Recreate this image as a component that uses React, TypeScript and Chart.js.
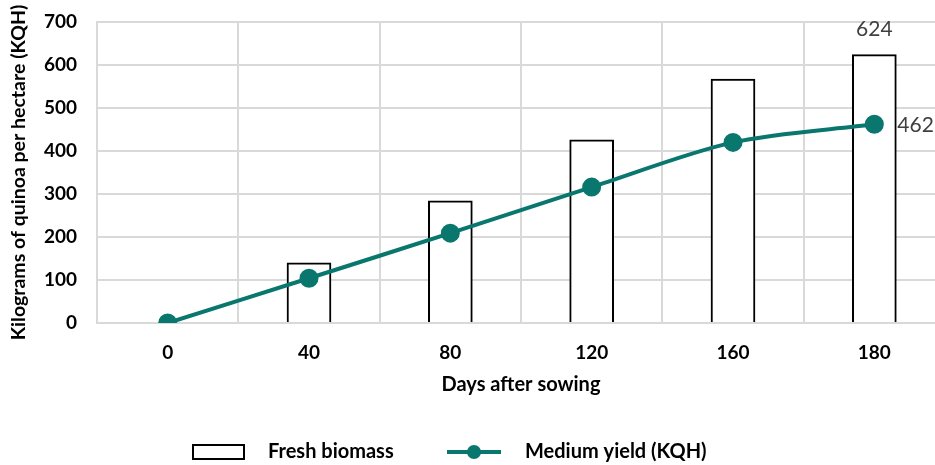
import React, { useEffect, useRef } from "react";
import { Chart, registerables } from "chart.js";

Chart.register(...registerables);

const categories = ["0", "40", "80", "120", "160", "180"];
const freshBiomass = [null, 140, 284, 426, 567, 624];
const mediumYield = [0, 104, 209, 316, 420, 462];
const yTicks = [0, 100, 200, 300, 400, 500, 600, 700];

const TEAL = "#0a776f";
const GRID = "#d9d9d9";
const FONT = "Lato, 'Open Sans', sans-serif";
const PLOT_TOP = 22;

const fixTopPlugin = {
  id: "fixTop",
  afterLayout(chart: any) {
    const y = chart.scales.y;
    chart.chartArea.top = PLOT_TOP;
    chart.chartArea.height = chart.chartArea.bottom - PLOT_TOP;
    y.top = PLOT_TOP;
    y.height = y.bottom - PLOT_TOP;
    y.configure();
  },
};

const labelsPlugin = {
  id: "customLabels",
  afterDatasetsDraw(chart: any) {
    const ctx = chart.ctx;
    ctx.save();
    ctx.fillStyle = "#404040";
    ctx.font = `21px ${FONT}`;
    const barMeta = chart.getDatasetMeta(0);
    const lineMeta = chart.getDatasetMeta(1);
    const lastBar = barMeta.data[barMeta.data.length - 1];
    const lastPt = lineMeta.data[lineMeta.data.length - 1];
    ctx.textAlign = "center";
    ctx.textBaseline = "middle";
    ctx.fillText(String(freshBiomass[freshBiomass.length - 1]), lastBar.x, lastBar.y - 25);
    ctx.textAlign = "left";
    ctx.fillText(String(mediumYield[mediumYield.length - 1]), lastPt.x + 23, lastPt.y + 1);

    // legend
    const ly = 452;
    ctx.lineWidth = 2;
    ctx.strokeStyle = "#000";
    ctx.fillStyle = "#fff";
    ctx.fillRect(193, ly - 7, 51, 14);
    ctx.strokeRect(193, ly - 7, 51, 14);
    ctx.fillStyle = "#000";
    ctx.font = `bold 20px ${FONT}`;
    ctx.textAlign = "left";
    ctx.textBaseline = "middle";
    ctx.fillText("Fresh biomass", 268, ly);
    ctx.strokeStyle = TEAL;
    ctx.lineWidth = 4;
    ctx.beginPath();
    ctx.moveTo(447, ly);
    ctx.lineTo(501, ly);
    ctx.stroke();
    ctx.fillStyle = TEAL;
    ctx.beginPath();
    ctx.arc(474, ly, 7, 0, Math.PI * 2);
    ctx.fill();
    ctx.fillStyle = "#000";
    ctx.fillText("Medium yield (KQH)", 525, ly);
    ctx.restore();
  },
};

export default function App() {
  const ref = useRef<HTMLCanvasElement>(null);
  useEffect(() => {
    if (!ref.current) return;
    const chart = new Chart(ref.current, {
      type: "bar",
      data: {
        labels: categories,
        datasets: [
          {
            type: "bar",
            label: "Fresh biomass",
            data: freshBiomass as any,
            backgroundColor: "#ffffff",
            borderColor: "#000000",
            borderWidth: 2,
            barThickness: 44,
            order: 2,
          },
          {
            type: "line",
            label: "Medium yield (KQH)",
            data: mediumYield,
            borderColor: TEAL,
            backgroundColor: TEAL,
            borderWidth: 4,
            pointRadius: 7.5,
            pointBackgroundColor: TEAL,
            pointBorderColor: TEAL,
            tension: 0.3,
            order: 1,
          } as any,
        ],
      },
      options: {
        responsive: false,
        animation: false,
        layout: { autoPadding: false, padding: { top: 22, left: 0, right: 0, bottom: 0 } },
        plugins: {
          legend: { display: false },
          tooltip: { enabled: false },
        },
        scales: {
          x: {
            grid: { color: GRID, lineWidth: 2, drawTicks: false, offset: true },
            border: { color: GRID, width: 2 },
            ticks: {
              color: "#000",
              font: { family: FONT, size: 19, weight: "bold" },
              padding: 18,
            },
            title: {
              display: true,
              text: "Days after sowing",
              color: "#000",
              font: { family: FONT, size: 20, weight: "bold" },
              padding: { top: 0, bottom: 68 },
            },
            afterFit: (s: any) => {
              s.height = 142;
            },
          },
          y: {
            min: 0,
            max: 700,
            afterBuildTicks: (s: any) => {
              s.ticks = yTicks.map((v) => ({ value: v }));
            },
            grid: { color: GRID, lineWidth: 2, drawTicks: false },
            border: { color: GRID, width: 2 },
            ticks: {
              color: "#000",
              font: { family: FONT, size: 19, weight: "bold" },
              padding: 20,
            },
            title: {
              display: true,
              text: "Kilograms of quinoa per hectare (KQH)",
              color: "#000",
              font: { family: FONT, size: 19.5, weight: "bold" },
              padding: { top: 7, bottom: 0 },
            },
            afterFit: (s: any) => {
              s.width = 97;
            },
          },
        },
      } as any,
      plugins: [fixTopPlugin, labelsPlugin],
    });
    return () => chart.destroy();
  }, []);
  return (
    <div style={{ position: "fixed", left: 0, top: 0, width: 935, height: 465, overflow: "hidden", background: "#fff" }}>
      <canvas ref={ref} width={945} height={465} style={{ width: 945, height: 465, display: "block" }} />
    </div>
  );
}
